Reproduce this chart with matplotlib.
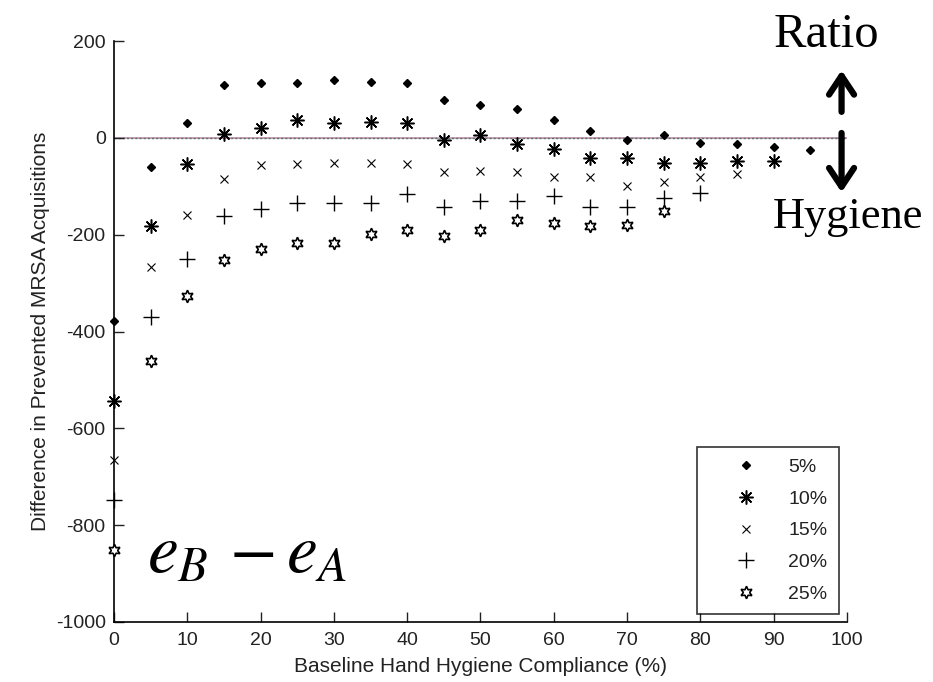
import matplotlib
matplotlib.use("Agg")
import matplotlib.pyplot as plt
from matplotlib.patches import FancyArrowPatch

# baseline hand hygiene compliance (%)
compliance = [0, 5, 10, 15, 20, 25, 30, 35, 40, 45, 50, 55, 60, 65, 70, 75, 80, 85, 90, 95]

diff_5 = [-378, -61, 30, 110, 114, 114, 120, 116, 114, 78, 67, 60, 36, 14, -5, 5, -10, -13, -19, -25]
diff_10 = [-543, -183, -54, 9, 21, 36, 30, 33, 30, -5, 5, -13, -22, -42, -42, -51, -51, -47, -47]
diff_15 = [-665, -266, -159, -85, -56, -54, -51, -51, -54, -71, -68, -71, -80, -80, -99, -92, -80, -75]
diff_20 = [-747, -371, -250, -162, -147, -135, -135, -135, -116, -142, -131, -131, -121, -142, -142, -125, -114]
diff_25 = [-852, -460, -327, -253, -229, -217, -217, -198, -190, -203, -190, -169, -175, -183, -179, -152]

labels = ["5%", "10%", "15%", "20%", "25%"]

plt.rcParams["font.family"] = ["Liberation Sans", "DejaVu Sans"]
plt.rcParams["axes.unicode_minus"] = False
plt.rcParams["mathtext.fontset"] = "stix"

fig = plt.figure(figsize=(9.33, 6.82), dpi=100)
ax = fig.add_axes([0.1222, 0.088, 0.7856, 0.8518])

# zero reference line
ax.plot([0, 100], [0, 0], color=(0.78, 0.62, 0.72), lw=1.4, zorder=1)
ax.plot([0, 100], [0, 0], color=(0.35, 0.45, 0.4), lw=1.0, ls=(0, (1.5, 1.5)), zorder=1)

series = [diff_5, diff_10, diff_15, diff_20, diff_25]
styles = [
    dict(marker="D", ms=4, mfc="black", mec="black"),
    dict(marker=(8, 2, 0), ms=10, mec="black", mew=1.1),
    dict(marker="x", ms=6, mec="black", mew=0.8),
    dict(marker="+", ms=11, mec="black", mew=1.0),
    dict(marker=(6, 1, 0), ms=9, mfc="white", mec="black", mew=1.2),
]
for vals, lab, st in zip(series, labels, styles):
    ax.plot(compliance[:len(vals)], vals, ls="none", label=lab, clip_on=False, zorder=3, **st)

ax.set_xlim(0, 100)
ax.set_ylim(-1000, 200)
ax.set_xticks(range(0, 101, 10))
ax.set_yticks(range(-1000, 201, 200))
ax.spines["top"].set_visible(False)
ax.spines["right"].set_visible(False)
for s in ("left", "bottom"):
    ax.spines[s].set_linewidth(1.2)
ax.tick_params(direction="in", length=7, width=1.0, labelsize=14, colors="#222222")
ax.tick_params(axis="x", pad=7)
ax.tick_params(axis="y", pad=6)
ax.set_xlabel("Baseline Hand Hygiene Compliance (%)", fontsize=15, labelpad=6, color="#222222")
ax.set_ylabel("Difference in Prevented MRSA Acquisitions", fontsize=15, labelpad=4, color="#222222")

leg = ax.legend(loc="lower right", fontsize=14, frameon=True, fancybox=False,
                borderaxespad=0.4, handlelength=3.8, labelspacing=0.72,
                borderpad=0.6, handletextpad=0.3)
leg.get_frame().set_edgecolor("black")
leg.get_frame().set_linewidth(1.2)
for t in leg.get_texts():
    t.set_color("#222222")

serif = ["Liberation Serif", "DejaVu Serif"]
fig.text(0.886, 0.9315, "Ratio", fontsize=35, family=serif, ha="center", va="baseline")
fig.text(0.909, 0.666, "Hygiene", fontsize=32, family=serif, ha="center", va="baseline")
arrow_kw = dict(transform=fig.transFigure, arrowstyle="->,head_length=0.45,head_width=0.3",
                mutation_scale=30, lw=4.5, color="black", shrinkA=0, shrinkB=0)
fig.patches.append(FancyArrowPatch((0.902, 0.836), (0.902, 0.897), **arrow_kw))
fig.patches.append(FancyArrowPatch((0.902, 0.805), (0.902, 0.718), **arrow_kw))

ax.text(4.5, -858, r"$e_B\,-e_A$", fontsize=50, ha="left", va="center")

fig.savefig("out.png", dpi=100)
